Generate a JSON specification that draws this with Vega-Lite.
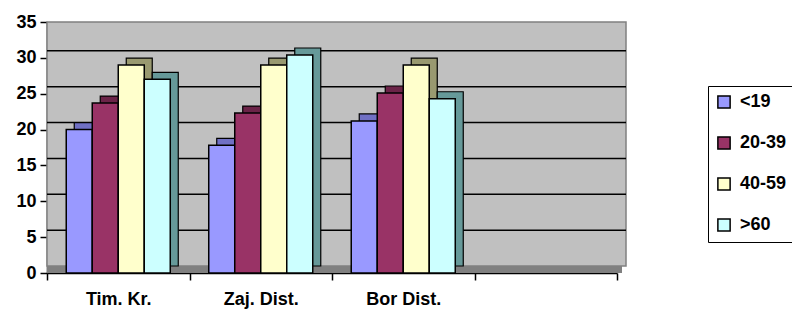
{
  "$schema": "https://vega.github.io/schema/vega-lite/v6.json",
  "width": 570,
  "height": 251,
  "autosize": {"type": "none"},
  "padding": {"left": 47, "top": 22, "right": 175, "bottom": 38},
  "background": "white",
  "config": {
    "view": {"stroke": null},
    "font": "Liberation Sans",
    "axis": {"labelFont": "Liberation Sans", "labelFontWeight": "bold", "labelFontSize": 18, "labelColor": "black", "domainColor": "black", "domainWidth": 1.5, "tickColor": "black", "tickWidth": 1.5, "tickSize": 7, "grid": false, "title": null},
    "axisY": {"values": [0, 5, 10, 15, 20, 25, 30, 35], "labelPadding": 4},
    "legend": {"labelFont": "Liberation Sans", "labelFontWeight": "bold", "labelFontSize": 18, "labelColor": "black"}
  },
  "datasets": {
    "survey": [
      {"place": "Tim. Kr.", "age": "<19", "value": 20},
      {"place": "Tim. Kr.", "age": "20-39", "value": 23.7},
      {"place": "Tim. Kr.", "age": "40-59", "value": 29},
      {"place": "Tim. Kr.", "age": ">60", "value": 27},
      {"place": "Zaj. Dist.", "age": "<19", "value": 17.8},
      {"place": "Zaj. Dist.", "age": "20-39", "value": 22.3},
      {"place": "Zaj. Dist.", "age": "40-59", "value": 29},
      {"place": "Zaj. Dist.", "age": ">60", "value": 30.4},
      {"place": "Bor Dist.", "age": "<19", "value": 21.2},
      {"place": "Bor Dist.", "age": "20-39", "value": 25.1},
      {"place": "Bor Dist.", "age": "40-59", "value": 29},
      {"place": "Bor Dist.", "age": ">60", "value": 24.3}
    ]
  },
  "resolve": {"scale": {"color": "independent", "xOffset": "independent"}},
  "layer": [
    {
      "data": {"values": [{"wall": 1}]},
      "mark": {"type": "rect", "fill": "#c0c0c0", "stroke": "#808080", "strokeWidth": 1.5, "xOffset": 9, "yOffset": -7},
      "encoding": {
        "y": {"datum": 0, "type": "quantitative", "scale": {"domain": [0, 35], "nice": false}},
        "y2": {"datum": 35}
      }
    },
    {
      "data": {"values": [{"floor": 1}]},
      "mark": {"type": "rule", "stroke": "#808080", "strokeWidth": 7, "xOffset": 5, "yOffset": -3.5},
      "encoding": {"y": {"datum": 0, "type": "quantitative"}}
    },
    {
      "data": {"values": [{"v": 5}, {"v": 10}, {"v": 15}, {"v": 20}, {"v": 25}, {"v": 30}]},
      "mark": {"type": "rule", "stroke": "black", "strokeWidth": 1.5, "xOffset": 9, "yOffset": -7},
      "encoding": {"y": {"field": "v", "type": "quantitative"}}
    },
    {
      "data": {"name": "survey"},
      "mark": {"type": "bar", "stroke": "black", "strokeWidth": 1.2, "yOffset": -7},
      "encoding": {
        "x": {"field": "place", "type": "nominal", "sort": null, "scale": {"domain": ["Tim. Kr.", "Zaj. Dist.", "Bor Dist.", " "], "paddingInner": 0, "paddingOuter": 0}, "axis": {"labelAngle": 0, "tickBand": "extent", "labelPadding": 10}},
        "xOffset": {"field": "age", "type": "nominal", "sort": null, "scale": {"domain": ["<19", "20-39", "40-59", ">60"], "paddingInner": 0, "paddingOuter": 0.74, "range": [8, 150.5]}},
        "y": {"field": "value", "type": "quantitative"},
        "color": {"field": "age", "type": "nominal", "sort": null, "legend": null, "scale": {"domain": ["<19", "20-39", "40-59", ">60"], "range": ["#7070c4", "#6b2448", "#999970", "#669999"]}}
      }
    },
    {
      "data": {"name": "survey"},
      "mark": {"type": "bar", "stroke": "black", "strokeWidth": 1.5},
      "encoding": {
        "x": {"field": "place", "type": "nominal", "sort": null},
        "xOffset": {"field": "age", "type": "nominal", "sort": null, "scale": {"domain": ["<19", "20-39", "40-59", ">60"], "paddingInner": 0, "paddingOuter": 0.74}},
        "y": {"field": "value", "type": "quantitative"},
        "color": {
          "field": "age", "type": "nominal", "sort": null,
          "scale": {"domain": ["<19", "20-39", "40-59", ">60"], "range": ["#9999ff", "#993366", "#ffffcc", "#ccffff"]},
          "legend": {"title": null, "orient": "none", "legendX": 661, "legendY": 64, "symbolType": "square", "symbolSize": 150, "symbolStrokeColor": "black", "symbolStrokeWidth": 1.5, "symbolOpacity": 1, "rowPadding": 21, "labelOffset": 7, "padding": 7, "strokeColor": "black"}
        }
      }
    }
  ]
}
